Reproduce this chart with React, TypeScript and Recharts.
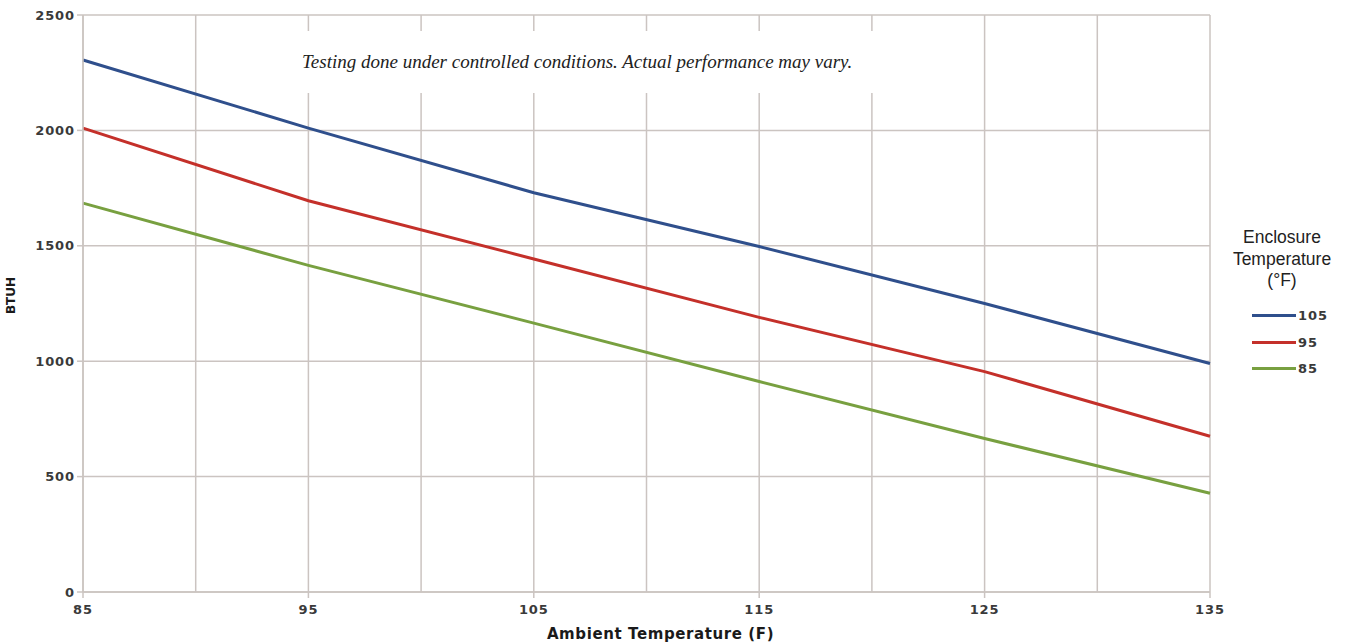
import React from 'react';
import { LineChart, Line, XAxis, YAxis, CartesianGrid, Legend, Label } from 'recharts';

// Ambient temperature (F) at each measured point
const ambientTemps = [85, 95, 105, 115, 125, 135];

// BTUH capacity per enclosure temperature
const btuh105 = [2305, 2010, 1730, 1497, 1250, 990];
const btuh95 = [2010, 1695, 1443, 1190, 955, 675];
const btuh85 = [1685, 1415, 1165, 912, 665, 428];

// grid every 5, labels every 10
const xTicks = [85, 90, 95, 100, 105, 110, 115, 120, 125, 130, 135];
const xLabelTicks = [85, 95, 105, 115, 125, 135];
const yTicks = [0, 500, 1000, 1500, 2000, 2500];

const seriesList = [
  { key: 't105', name: '105', values: btuh105, color: '#2f4f8c' },
  { key: 't95', name: '95', values: btuh95, color: '#c4302a' },
  { key: 't85', name: '85', values: btuh85, color: '#78a040' },
];

const legendTitle = ['Enclosure', 'Temperature', '(°F)'];
const noteText = 'Testing done under controlled conditions. Actual performance may vary.';

const GRID = '#cbc4c1';
const TICK_FONT = '"DejaVu Sans", Verdana, sans-serif';

const chartData = ambientTemps.map((t, i) => {
  const row: Record<string, number> = { ambient: t };
  seriesList.forEach((s) => {
    row[s.key] = s.values[i];
  });
  return row;
});

const TICK_SIZE = 6;
const TICK_MARGIN = 5;

// x tick: label + tick mark only on the 10-degree steps
function XTick(props: any) {
  const { x, y, payload } = props;
  if (!xLabelTicks.includes(payload.value)) return null;
  return (
    <g>
      <line
        x1={x}
        x2={x}
        y1={y - TICK_SIZE - TICK_MARGIN}
        y2={y - TICK_MARGIN}
        stroke={GRID}
        strokeWidth={1.5}
      />
      <text
        x={x}
        y={y + 11}
        textAnchor="middle"
        fontFamily={TICK_FONT}
        fontWeight="bold"
        fontSize={13}
        letterSpacing={0.9}
        fill="#3a3a3a"
      >
        {payload.value}
      </text>
    </g>
  );
}

function LegendBox() {
  return (
    <div style={{ width: 130, fontFamily: '"Liberation Sans", Arial, sans-serif', color: '#222' }}>
      <div style={{ marginTop: 3 }}>
        {legendTitle.map((line) => (
          <div key={line} style={{ textAlign: 'center', fontSize: 17.5, lineHeight: '21.5px' }}>
            {line}
          </div>
        ))}
      </div>
      <div style={{ marginTop: 11 }}>
        {seriesList.map((s) => (
          <div key={s.key} style={{ display: 'flex', alignItems: 'center', height: 26.5 }}>
            <div style={{ width: 44, height: 3, background: s.color, marginLeft: 35, marginRight: 2 }} />
            <span
              style={{
                fontFamily: TICK_FONT,
                fontWeight: 'bold',
                fontSize: 13,
                letterSpacing: 0.9,
                color: '#3a3a3a',
              }}
            >
              {s.name}
            </span>
          </div>
        ))}
      </div>
    </div>
  );
}

export default function App() {
  return (
    <div style={{ position: 'absolute', left: 0, top: 0, width: 1345, height: 643, background: '#fff' }}>
      <LineChart
        width={1345}
        height={643}
        data={chartData}
        margin={{ top: 15, right: 135, bottom: 0, left: 0 }}
      >
        <CartesianGrid stroke={GRID} strokeWidth={1.5} />
        <XAxis
          dataKey="ambient"
          type="number"
          domain={[85, 135]}
          ticks={xTicks}
          interval={0}
          height={51}
          tick={<XTick />}
          tickLine={false}
          tickSize={TICK_SIZE}
          tickMargin={TICK_MARGIN}
          axisLine={{ stroke: GRID, strokeWidth: 1.5 }}
        >
          <Label
            value="Ambient Temperature (F)"
            position="insideBottom"
            offset={4}
            dx={14}
            style={{ fontFamily: TICK_FONT, fontWeight: 'bold', fontSize: 15, fill: '#1a1a1a', letterSpacing: 0.6 }}
          />
        </XAxis>
        <YAxis
          type="number"
          domain={[0, 2500]}
          ticks={yTicks}
          interval={0}
          width={83}
          tickSize={TICK_SIZE}
          tickMargin={2}
          tickLine={{ stroke: GRID, strokeWidth: 1.5 }}
          axisLine={{ stroke: GRID, strokeWidth: 1.5 }}
          tick={{ fontFamily: TICK_FONT, fontWeight: 'bold', fontSize: 13, fill: '#3a3a3a', letterSpacing: 0.9 }}
        >
          <Label
            value="BTUH"
            angle={-90}
            position="insideLeft"
            offset={11}
            dy={-8}
            style={{ fontFamily: TICK_FONT, fontWeight: 'bold', fontSize: 12, fill: '#1a1a1a', textAnchor: 'middle' }}
          />
        </YAxis>
        {seriesList.map((s) => (
          <Line
            key={s.key}
            dataKey={s.key}
            name={s.name}
            type="linear"
            stroke={s.color}
            strokeWidth={3}
            dot={false}
            activeDot={false}
            isAnimationActive={false}
          />
        ))}
        <Legend
          layout="horizontal"
          align="center"
          verticalAlign="middle"
          content={<LegendBox />}
          wrapperStyle={{ left: 1217, top: 224, width: 130 }}
        />
      </LineChart>
      <div
        style={{
          position: 'absolute',
          left: 290,
          top: 31,
          width: 590,
          height: 62,
          background: '#fff',
          display: 'flex',
          alignItems: 'center',
          justifyContent: 'flex-start',
          paddingLeft: 12,
          boxSizing: 'border-box',
          fontFamily: '"Liberation Serif", "Times New Roman", serif',
          fontStyle: 'italic',
          fontSize: 19,
          color: '#222',
          whiteSpace: 'nowrap',
        }}
      >
        {noteText}
      </div>
    </div>
  );
}
